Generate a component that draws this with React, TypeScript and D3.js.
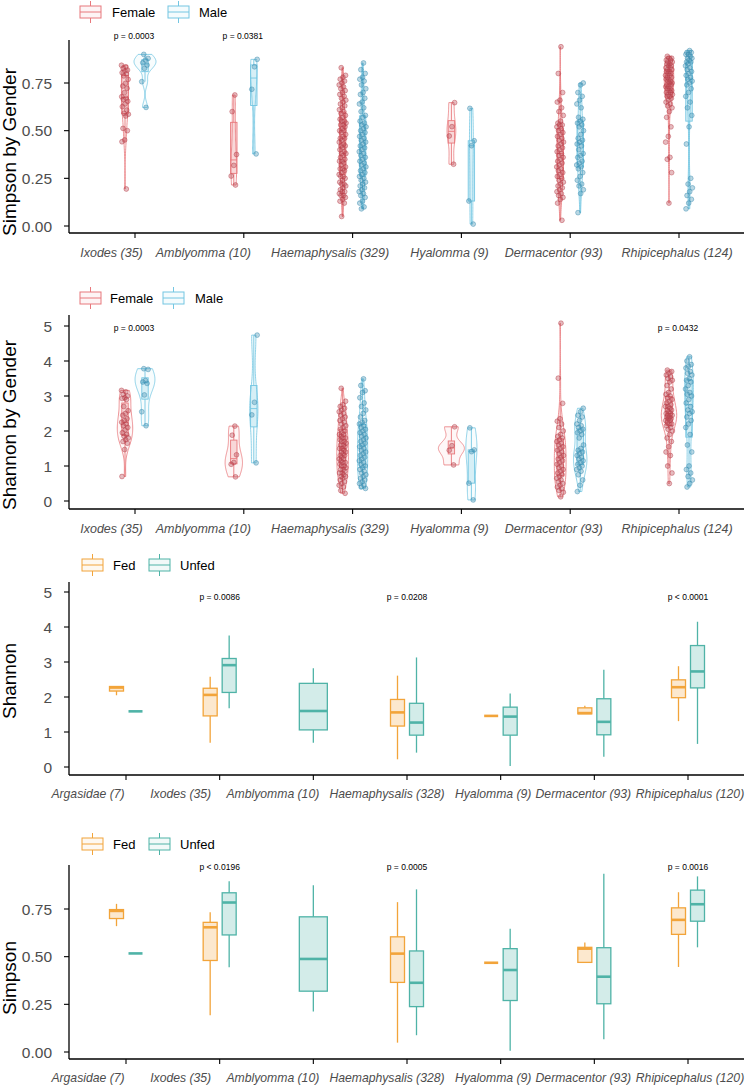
import React from 'react';
import * as d3 from 'd3';

const GENDER_GENERA = ['Ixodes (35)', 'Amblyomma (10)', 'Haemaphysalis (329)', 'Hyalomma (9)', 'Dermacentor (93)', 'Rhipicephalus (124)'];
const FEED_GENERA = ['Argasidae (7)', 'Ixodes (35)', 'Amblyomma (10)', 'Haemaphysalis (328)', 'Hyalomma (9)', 'Dermacentor (93)', 'Rhipicephalus (120)'];

// Simpson by gender (per genus, GENDER_GENERA order)
const simpsonFemale: number[][] = [
  [0.843, 0.835, 0.827, 0.818, 0.813, 0.804, 0.797, 0.787, 0.769, 0.748, 0.734, 0.722, 0.699, 0.678, 0.670, 0.664, 0.654, 0.640, 0.626, 0.608, 0.591, 0.586, 0.577, 0.512, 0.500, 0.451, 0.442, 0.194],
  [0.687, 0.600, 0.375, 0.318, 0.262, 0.215],
  [0.83, 0.79, 0.78, 0.77, 0.76, 0.75, 0.74, 0.73, 0.72, 0.71, 0.70, 0.69, 0.68, 0.67, 0.66, 0.65, 0.64, 0.63, 0.62, 0.61, 0.60, 0.59, 0.58, 0.57, 0.56, 0.55, 0.55, 0.54, 0.53, 0.53, 0.52, 0.51, 0.50, 0.50, 0.49, 0.48, 0.47, 0.46, 0.46, 0.45, 0.44, 0.43, 0.42, 0.42, 0.41, 0.40, 0.39, 0.38, 0.38, 0.37, 0.36, 0.35, 0.34, 0.34, 0.33, 0.32, 0.31, 0.30, 0.30, 0.29, 0.28, 0.27, 0.26, 0.26, 0.25, 0.24, 0.23, 0.22, 0.22, 0.21, 0.20, 0.19, 0.18, 0.18, 0.17, 0.16, 0.16, 0.15, 0.14, 0.13, 0.12, 0.05],
  [0.647, 0.521, 0.472, 0.324],
  [0.94, 0.80, 0.70, 0.66, 0.65, 0.62, 0.60, 0.58, 0.55, 0.54, 0.53, 0.53, 0.52, 0.51, 0.50, 0.49, 0.48, 0.47, 0.46, 0.45, 0.44, 0.43, 0.42, 0.41, 0.40, 0.39, 0.38, 0.37, 0.36, 0.35, 0.34, 0.33, 0.32, 0.31, 0.30, 0.29, 0.28, 0.27, 0.26, 0.25, 0.24, 0.23, 0.22, 0.21, 0.20, 0.19, 0.18, 0.17, 0.16, 0.15, 0.14, 0.12, 0.03],
  [0.89, 0.88, 0.88, 0.87, 0.87, 0.86, 0.86, 0.85, 0.85, 0.84, 0.84, 0.83, 0.83, 0.82, 0.82, 0.81, 0.81, 0.80, 0.80, 0.79, 0.79, 0.78, 0.78, 0.77, 0.77, 0.76, 0.76, 0.75, 0.75, 0.74, 0.74, 0.73, 0.73, 0.72, 0.72, 0.71, 0.71, 0.70, 0.70, 0.69, 0.69, 0.68, 0.68, 0.67, 0.66, 0.65, 0.64, 0.63, 0.62, 0.60, 0.57, 0.52, 0.47, 0.44, 0.36, 0.35, 0.28, 0.12],
];
const simpsonMale: number[][] = [
  [0.900, 0.879, 0.870, 0.856, 0.844, 0.827, 0.757, 0.622],
  [0.874, 0.835, 0.717, 0.378],
  [0.855, 0.82, 0.80, 0.78, 0.77, 0.76, 0.74, 0.72, 0.70, 0.69, 0.67, 0.65, 0.64, 0.62, 0.60, 0.58, 0.57, 0.55, 0.54, 0.53, 0.52, 0.51, 0.50, 0.49, 0.48, 0.47, 0.46, 0.45, 0.44, 0.43, 0.42, 0.41, 0.40, 0.39, 0.38, 0.37, 0.36, 0.35, 0.34, 0.33, 0.32, 0.31, 0.30, 0.29, 0.28, 0.27, 0.26, 0.25, 0.24, 0.23, 0.22, 0.21, 0.20, 0.19, 0.18, 0.17, 0.16, 0.15, 0.13, 0.12, 0.10, 0.09],
  [0.617, 0.447, 0.421, 0.131, 0.010],
  [0.75, 0.74, 0.70, 0.68, 0.66, 0.64, 0.62, 0.57, 0.56, 0.55, 0.54, 0.53, 0.52, 0.50, 0.48, 0.46, 0.45, 0.44, 0.43, 0.42, 0.40, 0.38, 0.37, 0.36, 0.34, 0.33, 0.32, 0.31, 0.30, 0.28, 0.26, 0.24, 0.22, 0.21, 0.19, 0.17, 0.07],
  [0.92, 0.91, 0.91, 0.90, 0.90, 0.89, 0.88, 0.88, 0.87, 0.86, 0.86, 0.85, 0.84, 0.83, 0.82, 0.81, 0.80, 0.79, 0.78, 0.77, 0.76, 0.75, 0.74, 0.72, 0.70, 0.68, 0.65, 0.62, 0.58, 0.52, 0.43, 0.25, 0.22, 0.20, 0.18, 0.16, 0.14, 0.12, 0.09],
];

// Shannon by gender
const shannonFemale: number[][] = [
  [3.16, 3.12, 3.05, 3.00, 2.95, 2.93, 2.90, 2.70, 2.58, 2.50, 2.45, 2.35, 2.30, 2.25, 2.20, 2.15, 2.10, 2.03, 1.95, 1.90, 1.85, 1.80, 1.75, 1.70, 1.65, 1.47, 0.70],
  [2.14, 1.88, 1.32, 1.10, 1.05, 0.69],
  [3.22, 2.85, 2.75, 2.70, 2.65, 2.60, 2.55, 2.50, 2.45, 2.40, 2.35, 2.30, 2.25, 2.20, 2.15, 2.10, 2.05, 2.00, 1.95, 1.90, 1.90, 1.85, 1.80, 1.80, 1.75, 1.70, 1.70, 1.65, 1.60, 1.60, 1.55, 1.50, 1.50, 1.45, 1.40, 1.40, 1.35, 1.30, 1.30, 1.25, 1.20, 1.20, 1.15, 1.10, 1.10, 1.05, 1.00, 1.00, 0.95, 0.90, 0.90, 0.85, 0.80, 0.80, 0.75, 0.70, 0.70, 0.65, 0.60, 0.55, 0.50, 0.45, 0.40, 0.30, 0.22],
  [2.12, 1.58, 1.45, 1.03],
  [5.08, 3.51, 2.79, 2.35, 2.28, 2.20, 2.10, 2.00, 1.90, 1.85, 1.80, 1.75, 1.70, 1.65, 1.60, 1.55, 1.50, 1.45, 1.40, 1.35, 1.30, 1.25, 1.20, 1.15, 1.10, 1.05, 1.00, 0.95, 0.90, 0.85, 0.80, 0.75, 0.70, 0.65, 0.60, 0.55, 0.50, 0.45, 0.40, 0.35, 0.30, 0.25, 0.12],
  [3.74, 3.70, 3.65, 3.60, 3.55, 3.50, 3.45, 3.40, 3.30, 3.20, 3.10, 3.05, 3.00, 2.95, 2.90, 2.85, 2.80, 2.75, 2.70, 2.70, 2.65, 2.60, 2.60, 2.55, 2.50, 2.50, 2.45, 2.45, 2.40, 2.40, 2.35, 2.35, 2.30, 2.30, 2.25, 2.20, 2.20, 2.15, 2.10, 2.05, 2.00, 1.90, 1.80, 1.70, 1.55, 1.40, 1.30, 1.00, 0.80, 0.50],
];
const shannonMale: number[][] = [
  [3.78, 3.76, 3.44, 3.40, 3.36, 3.03, 2.55, 2.15],
  [4.74, 2.82, 2.46, 1.09],
  [3.49, 3.30, 3.15, 3.10, 2.95, 2.80, 2.70, 2.60, 2.50, 2.40, 2.30, 2.25, 2.20, 2.15, 2.10, 2.05, 2.00, 1.95, 1.90, 1.85, 1.80, 1.75, 1.70, 1.65, 1.60, 1.55, 1.50, 1.45, 1.40, 1.35, 1.30, 1.25, 1.20, 1.15, 1.10, 1.05, 1.00, 0.95, 0.90, 0.85, 0.80, 0.75, 0.70, 0.65, 0.60, 0.55, 0.50, 0.45, 0.40, 0.36],
  [2.09, 1.46, 1.41, 0.51, 0.03],
  [2.65, 2.55, 2.45, 2.40, 2.30, 2.20, 2.15, 2.10, 2.05, 2.00, 1.95, 1.90, 1.80, 1.60, 1.50, 1.45, 1.40, 1.35, 1.30, 1.25, 1.20, 1.15, 1.10, 1.05, 1.00, 0.95, 0.90, 0.85, 0.75, 0.60, 0.45, 0.27],
  [4.12, 4.00, 3.90, 3.85, 3.80, 3.70, 3.65, 3.60, 3.50, 3.45, 3.40, 3.30, 3.20, 3.10, 3.05, 3.00, 2.90, 2.80, 2.70, 2.60, 2.55, 2.50, 2.40, 2.30, 2.20, 2.10, 1.90, 1.60, 1.40, 1.00, 0.90, 0.80, 0.70, 0.60, 0.50, 0.40],
];

// Fed / Unfed boxplot statistics: [min, q1, median, q3, max] per genus (FEED_GENERA order)
type Stat = number[] | null;
const shannonFed: Stat[] = [
  [2.05, 2.17, 2.27, 2.30, 2.30],
  [0.69, 1.46, 2.06, 2.25, 2.58],
  null,
  [0.22, 1.17, 1.56, 1.93, 2.61],
  [1.46, 1.46, 1.46, 1.46, 1.46],
  [1.52, 1.52, 1.54, 1.69, 1.75],
  [1.31, 1.98, 2.28, 2.49, 2.88],
];
const shannonUnfed: Stat[] = [
  [1.59, 1.59, 1.59, 1.59, 1.59],
  [1.68, 2.13, 2.91, 3.10, 3.76],
  [0.69, 1.06, 1.60, 2.39, 2.82],
  [0.41, 0.91, 1.27, 1.82, 3.13],
  [0.03, 0.91, 1.44, 1.71, 2.10],
  [0.29, 0.92, 1.29, 1.95, 2.78],
  [0.66, 2.26, 2.73, 3.47, 4.15],
];
const simpsonFed: Stat[] = [
  [0.66, 0.70, 0.74, 0.747, 0.777],
  [0.193, 0.48, 0.654, 0.68, 0.733],
  null,
  [0.049, 0.365, 0.516, 0.604, 0.786],
  [0.468, 0.468, 0.468, 0.468, 0.468],
  [0.47, 0.47, 0.542, 0.549, 0.574],
  [0.446, 0.617, 0.693, 0.756, 0.838],
];
const simpsonUnfed: Stat[] = [
  [0.517, 0.517, 0.517, 0.517, 0.517],
  [0.444, 0.614, 0.784, 0.835, 0.896],
  [0.212, 0.319, 0.488, 0.709, 0.874],
  [0.088, 0.238, 0.363, 0.53, 0.853],
  [0.007, 0.27, 0.43, 0.542, 0.646],
  [0.067, 0.253, 0.395, 0.547, 0.935],
  [0.549, 0.686, 0.775, 0.849, 0.921],
];

const pGenderSimpson = [{ g: 0, t: 'p = 0.0003' }, { g: 1, t: 'p = 0.0381' }];
const pGenderShannon = [{ g: 0, t: 'p = 0.0003' }, { g: 5, t: 'p = 0.0432' }];
const pFeedShannon = [{ g: 1, t: 'p = 0.0086' }, { g: 3, t: 'p = 0.0208' }, { g: 6, t: 'p < 0.0001' }];
const pFeedSimpson = [{ g: 1, t: 'p < 0.0196' }, { g: 3, t: 'p = 0.0005' }, { g: 6, t: 'p = 0.0016' }];

// layout: horizontal shift of each category label relative to its tick (as in the reference)
const GENDER_LABEL_DX = [-23.5, -40.5, -22.5, -12, -16.5, -2];
const FEED_LABEL_DX = [-38, -39, -40.5, -20, -7.5, -11, 2];

const FONT = "'Liberation Sans', Arial, Helvetica, sans-serif";
const GREY = '#4D4D4D';
const FEMALE = '#E8787C';
const MALE = '#74C6E2';
const FEMALE_PT = '#B8404A';
const MALE_PT = '#3A8DB0';
const FED = '#F2A43A';
const UNFED = '#4FB3A7';
const AXIS_LEFT = 69;
const AXIS_RIGHT = 744;

function density(vals: number[]) {
  const s = vals.slice().sort(d3.ascending);
  const n = s.length;
  const sd = d3.deviation(s) || 0;
  const iqr = (d3.quantileSorted(s, 0.75) as number) - (d3.quantileSorted(s, 0.25) as number);
  let lo = Math.min(sd, iqr / 1.34);
  if (!(lo > 0)) lo = sd > 0 ? sd : 0.1;
  const bw = 0.9 * lo * Math.pow(n, -0.2);
  const a = s[0], b = s[n - 1];
  return d3.range(0, 81).map(k => {
    const y = a + ((b - a) * k) / 80;
    const d = (d3.mean(s, v => Math.exp(-0.5 * ((y - v) / bw) ** 2)) as number) / (bw * Math.sqrt(2 * Math.PI));
    return { y, d };
  });
}

function boxStats(vals: number[]) {
  const s = vals.slice().sort(d3.ascending);
  const q1 = d3.quantileSorted(s, 0.25) as number;
  const med = d3.quantileSorted(s, 0.5) as number;
  const q3 = d3.quantileSorted(s, 0.75) as number;
  const iqr = q3 - q1;
  const lo = d3.min(s.filter(v => v >= q1 - 1.5 * iqr)) as number;
  const hi = d3.max(s.filter(v => v <= q3 + 1.5 * iqr)) as number;
  return [lo, q1, med, q3, hi];
}

function jit(i: number) {
  return (((i * 0.6180339887) % 1) - 0.5) * 2;
}

interface AxisProps {
  y: d3.ScaleLinear<number, number>;
  x: d3.ScalePoint<string>;
  ticks: number[];
  fmt: (v: number) => string;
  top: number;
  bottom: number;
  cats: string[];
  labelDx: number[];
  labelSize: number;
  title: string;
  titleY: number;
}

function Axes({ y, x, ticks, fmt, top, bottom, cats, labelDx, labelSize, title, titleY }: AxisProps) {
  return (
    <g>
      <line x1={AXIS_LEFT} x2={AXIS_LEFT} y1={top} y2={bottom} stroke="#000" strokeWidth={1.3} />
      <line x1={AXIS_LEFT} x2={AXIS_RIGHT} y1={bottom} y2={bottom} stroke="#000" strokeWidth={1.3} />
      {ticks.map(t => (
        <g key={t}>
          <line x1={AXIS_LEFT - 5} x2={AXIS_LEFT} y1={y(t)} y2={y(t)} stroke="#000" strokeWidth={1.1} />
          <text x={AXIS_LEFT - 17} y={y(t)} dy="0.36em" textAnchor="end" fontSize={15.5} fill={GREY} fontFamily={FONT}>{fmt(t)}</text>
        </g>
      ))}
      {cats.map((c, i) => (
        <g key={c}>
          <line x1={x(c)} x2={x(c)} y1={bottom} y2={bottom + 5} stroke="#000" strokeWidth={1.1} />
          <text x={(x(c) as number) + labelDx[i]} y={bottom + 19} dy="0.36em" textAnchor="middle" fontSize={labelSize} fontStyle="italic" fill={GREY} fontFamily={FONT}>{c}</text>
        </g>
      ))}
      <text transform={`translate(9,${titleY}) rotate(-90)`} dy="0.36em" textAnchor="middle" fontSize={19} fill="#000" fontFamily={FONT}>{title}</text>
    </g>
  );
}

function LegendKey({ x, y, color }: { x: number; y: number; color: string }) {
  return (
    <g>
      <line x1={x + 10.5} x2={x + 10.5} y1={y - 11} y2={y + 11} stroke={color} strokeWidth={1} />
      <rect x={x} y={y - 6} width={21} height={12} fill="#fff" stroke={color} strokeWidth={1} />
      <rect x={x} y={y - 6} width={21} height={12} fill={color} fillOpacity={0.08} stroke="none" />
      <line x1={x} x2={x + 21} y1={y} y2={y} stroke={color} strokeWidth={1} />
    </g>
  );
}

function Legend({ y, items }: { y: number; items: { label: string; color: string; kx: number; tx: number }[] }) {
  return (
    <g>
      {items.map(it => (
        <g key={it.label}>
          <LegendKey x={it.kx} y={y} color={it.color} />
          <text x={it.tx} y={y} dy="0.36em" fontSize={13} fill="#000" fontFamily={FONT}>{it.label}</text>
        </g>
      ))}
    </g>
  );
}

interface ViolinPanelProps {
  female: number[][];
  male: number[][];
  domain: [number, number];
  range: [number, number];
  ticks: number[];
  fmt: (v: number) => string;
  top: number;
  bottom: number;
  title: string;
  titleY: number;
  legendY: number;
  legend: { label: string; color: string; kx: number; tx: number }[];
  pvals: { g: number; t: string }[];
  pY: number;
  maxHalf: number;
}

function ViolinPanel(p: ViolinPanelProps) {
  const y = d3.scaleLinear().domain(p.domain).range(p.range);
  const x = d3.scalePoint<string>().domain(GENDER_GENERA).range([135, 679]);
  const groups: { vals: number[]; cx: number; line: string; pt: string }[] = [];
  GENDER_GENERA.forEach((g, i) => {
    groups.push({ vals: p.female[i], cx: (x(g) as number) - 10, line: FEMALE, pt: FEMALE_PT });
    groups.push({ vals: p.male[i], cx: (x(g) as number) + 10, line: MALE, pt: MALE_PT });
  });
  const dens = groups.map(gr => density(gr.vals));
  const maxD = d3.max(dens.flat(), d => d.d) as number;
  return (
    <g>
      <Legend y={p.legendY} items={p.legend} />
      <Axes y={y} x={x} ticks={p.ticks} fmt={p.fmt} top={p.top} bottom={p.bottom} cats={GENDER_GENERA} labelDx={GENDER_LABEL_DX} labelSize={12.5} title={p.title} titleY={p.titleY} />
      {groups.map((gr, k) => {
        const area = d3.area<{ y: number; d: number }>()
          .y(d => y(d.y))
          .x0(d => gr.cx - (d.d / maxD) * p.maxHalf)
          .x1(d => gr.cx + (d.d / maxD) * p.maxHalf);
        const path = area(dens[k]) as string;
        const [lo, q1, med, q3, hi] = boxStats(gr.vals);
        const bw = 3.2;
        return (
          <g key={k}>
            <path d={path} fill={gr.line} fillOpacity={0.06} stroke={gr.line} strokeWidth={0.8} />
            <line x1={gr.cx} x2={gr.cx} y1={y(q3)} y2={y(hi)} stroke={gr.line} strokeWidth={0.9} />
            <line x1={gr.cx} x2={gr.cx} y1={y(q1)} y2={y(lo)} stroke={gr.line} strokeWidth={0.9} />
            <rect x={gr.cx - bw} y={y(q3)} width={bw * 2} height={Math.max(0, y(q1) - y(q3))} fill={gr.line} fillOpacity={0.25} stroke={gr.line} strokeWidth={0.9} />
            <line x1={gr.cx - bw} x2={gr.cx + bw} y1={y(med)} y2={y(med)} stroke={gr.line} strokeWidth={0.9} />
          </g>
        );
      })}
      {groups.map((gr, k) => (
        <g key={'p' + k}>
          {gr.vals.map((v, i) => (
            <circle key={i} cx={gr.cx + jit(i + k * 7) * 3.5} cy={y(v)} r={2.4} fill={gr.pt} fillOpacity={0.35} stroke={gr.pt} strokeOpacity={0.8} strokeWidth={0.6} />
          ))}
        </g>
      ))}
      {p.pvals.map(pv => (
        <text key={pv.t + pv.g} x={(x(GENDER_GENERA[pv.g]) as number) - 1} y={p.pY} dy="0.36em" textAnchor="middle" fontSize={8.5} fill="#000" fontFamily={FONT}>{pv.t}</text>
      ))}
    </g>
  );
}

interface BoxPanelProps {
  fed: Stat[];
  unfed: Stat[];
  domain: [number, number];
  range: [number, number];
  ticks: number[];
  fmt: (v: number) => string;
  top: number;
  bottom: number;
  title: string;
  titleY: number;
  legendY: number;
  pvals: { g: number; t: string }[];
  pY: number;
}

function BoxPanel(p: BoxPanelProps) {
  const y = d3.scaleLinear().domain(p.domain).range(p.range);
  const x = d3.scalePoint<string>().domain(FEED_GENERA).range([126, 688]);
  const boxes: { s: number[]; cx: number; w: number; c: string }[] = [];
  FEED_GENERA.forEach((g, i) => {
    const f = p.fed[i];
    const u = p.unfed[i];
    const c = x(g) as number;
    if (f && u) {
      boxes.push({ s: f, cx: c - 9.5, w: 14, c: FED });
      boxes.push({ s: u, cx: c + 9.5, w: 14, c: UNFED });
    } else if (f) {
      boxes.push({ s: f, cx: c, w: 28, c: FED });
    } else if (u) {
      boxes.push({ s: u, cx: c, w: 28, c: UNFED });
    }
  });
  return (
    <g>
      <Legend y={p.legendY} items={[{ label: 'Fed', color: FED, kx: 82, tx: 113 }, { label: 'Unfed', color: UNFED, kx: 149, tx: 180 }]} />
      <Axes y={y} x={x} ticks={p.ticks} fmt={p.fmt} top={p.top} bottom={p.bottom} cats={FEED_GENERA} labelDx={FEED_LABEL_DX} labelSize={12.2} title={p.title} titleY={p.titleY} />
      {boxes.map((b, k) => {
        const [lo, q1, med, q3, hi] = b.s;
        const h = b.w / 2;
        return (
          <g key={k}>
            <line x1={b.cx} x2={b.cx} y1={y(q3)} y2={y(hi)} stroke={b.c} strokeWidth={1.3} />
            <line x1={b.cx} x2={b.cx} y1={y(q1)} y2={y(lo)} stroke={b.c} strokeWidth={1.3} />
            <rect x={b.cx - h} y={y(q3)} width={b.w} height={Math.max(0, y(q1) - y(q3))} fill={b.c} fillOpacity={0.25} stroke={b.c} strokeWidth={1.3} />
            <line x1={b.cx - h} x2={b.cx + h} y1={y(med)} y2={y(med)} stroke={b.c} strokeWidth={2.6} />
          </g>
        );
      })}
      {p.pvals.map(pv => (
        <text key={pv.t + pv.g} x={x(FEED_GENERA[pv.g]) as number} y={p.pY} dy="0.36em" textAnchor="middle" fontSize={8.5} fill="#000" fontFamily={FONT}>{pv.t}</text>
      ))}
    </g>
  );
}

export default function App() {
  const f2 = d3.format('.2f');
  const f0 = d3.format('d');
  return (
    <svg width={748} height={1086} style={{ position: 'absolute', left: 0, top: 0, background: '#fff' }} fontFamily={FONT}>
      <rect width={748} height={1086} fill="#fff" />
      <ViolinPanel
        female={simpsonFemale} male={simpsonMale}
        domain={[0, 0.75]} range={[226, 83]} ticks={[0, 0.25, 0.5, 0.75]} fmt={f2}
        top={40} bottom={233} title="Simpson by Gender" titleY={152}
        legendY={12}
        legend={[{ label: 'Female', color: FEMALE, kx: 80, tx: 112 }, { label: 'Male', color: MALE, kx: 168, tx: 199 }]}
        pvals={pGenderSimpson} pY={36} maxHalf={11}
      />
      <ViolinPanel
        female={shannonFemale} male={shannonMale}
        domain={[0, 5]} range={[501, 326]} ticks={[0, 1, 2, 3, 4, 5]} fmt={f0}
        top={315} bottom={509} title="Shannon by Gender" titleY={425}
        legendY={298}
        legend={[{ label: 'Female', color: FEMALE, kx: 80, tx: 110 }, { label: 'Male', color: MALE, kx: 163, tx: 195 }]}
        pvals={pGenderShannon} pY={328} maxHalf={13}
      />
      <BoxPanel
        fed={shannonFed} unfed={shannonUnfed}
        domain={[0, 5]} range={[767, 592]} ticks={[0, 1, 2, 3, 4, 5]} fmt={f0}
        top={582} bottom={775} title="Shannon" titleY={681} legendY={565}
        pvals={pFeedShannon} pY={597}
      />
      <BoxPanel
        fed={simpsonFed} unfed={simpsonUnfed}
        domain={[0, 0.75]} range={[1052, 909]} ticks={[0, 0.25, 0.5, 0.75]} fmt={f2}
        top={865} bottom={1059} title="Simpson" titleY={978} legendY={844}
        pvals={pFeedSimpson} pY={867}
      />
    </svg>
  );
}
